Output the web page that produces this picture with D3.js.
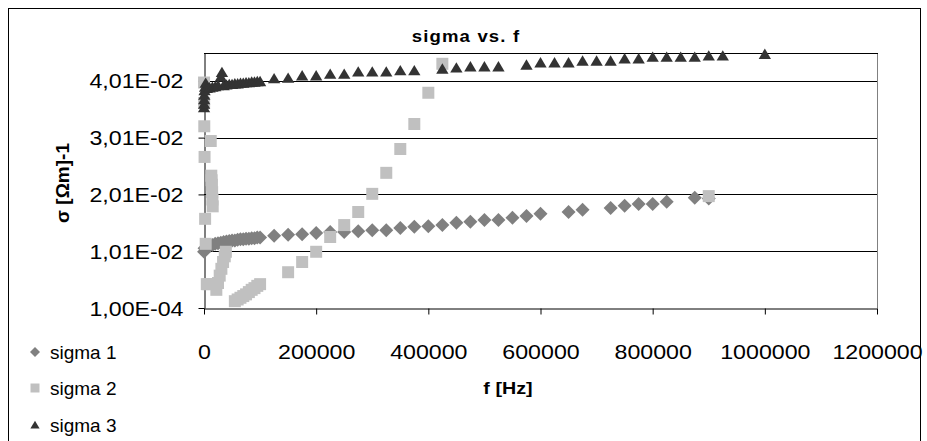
<!DOCTYPE html>
<html>
<head>
<meta charset="utf-8">
<script src="https://cdn.jsdelivr.net/npm/d3@7"></script>
<style>
  body { margin: 0; background: #fff; }
  svg text { font-family: "Liberation Sans", Arial, sans-serif; fill: #000; }
</style>
</head>
<body>
<svg id="chart" width="927" height="441"></svg>
<script>
// Conductivity measurements: [frequency in Hz, sigma in (Ohm m)^-1]
const sigma1 = [
  [100, 0.0100], [1000, 0.0106], [5000, 0.0108], [10000, 0.0110], [15000, 0.0112],
  [20000, 0.0114], [25000, 0.0115], [30000, 0.0116], [35000, 0.0117], [40000, 0.0118],
  [45000, 0.0119], [50000, 0.0120], [55000, 0.0120], [60000, 0.0121], [65000, 0.0122],
  [70000, 0.0122], [75000, 0.0123], [80000, 0.0123], [85000, 0.0124], [90000, 0.0124],
  [95000, 0.0125], [100000, 0.0125], [125000, 0.0128], [150000, 0.0130], [175000, 0.0131],
  [200000, 0.0133], [225000, 0.0135], [250000, 0.0135], [275000, 0.0136], [300000, 0.0138],
  [325000, 0.0138], [350000, 0.0142], [375000, 0.0144], [400000, 0.0145], [425000, 0.0147],
  [450000, 0.0151], [475000, 0.0153], [500000, 0.0156], [525000, 0.0156], [550000, 0.0160],
  [575000, 0.0163], [600000, 0.0167], [650000, 0.0170], [675000, 0.0174], [725000, 0.0177],
  [750000, 0.0181], [775000, 0.0184], [800000, 0.0184], [825000, 0.0188], [875000, 0.0195],
  [900000, 0.0194]
];

const sigma2 = [
  [100, 0.0398], [200, 0.0362], [500, 0.0321], [1000, 0.0267], [2000, 0.0158],
  [3000, 0.0114], [5000, 0.0043], [8000, 0.0043], [12000, 0.0295], [13000, 0.0234],
  [13500, 0.0226], [14000, 0.0218], [14500, 0.0205], [15000, 0.0192], [15500, 0.0180],
  [22000, 0.0033], [25000, 0.0045], [28000, 0.0058], [31000, 0.0070], [34000, 0.0082],
  [37000, 0.0092], [39000, 0.0100], [55000, 0.0013], [60000, 0.0016], [65000, 0.0019],
  [70000, 0.0022], [75000, 0.0025], [80000, 0.0029], [85000, 0.0033], [90000, 0.0036],
  [95000, 0.0040], [100000, 0.0043], [150000, 0.0064], [175000, 0.0082], [200000, 0.0100],
  [225000, 0.0126], [250000, 0.0147], [275000, 0.0170], [300000, 0.0202], [325000, 0.0239],
  [350000, 0.0281], [375000, 0.0325], [400000, 0.0380], [425000, 0.0431], [900000, 0.0198]
];

const sigma3 = [
  [100, 0.0354], [200, 0.0360], [300, 0.0368], [500, 0.0376], [1000, 0.0384],
  [2000, 0.0390], [3000, 0.0397], [5000, 0.0388], [10000, 0.0389], [15000, 0.0390],
  [20000, 0.0391], [25000, 0.0393], [30000, 0.0408], [32000, 0.0416], [35000, 0.0393],
  [40000, 0.0394], [45000, 0.0395], [50000, 0.0395], [55000, 0.0396], [60000, 0.0396],
  [65000, 0.0397], [70000, 0.0397], [75000, 0.0398], [80000, 0.0398], [85000, 0.0399],
  [90000, 0.0399], [95000, 0.0400], [100000, 0.0400], [125000, 0.0405], [150000, 0.0406],
  [175000, 0.0410], [200000, 0.0410], [225000, 0.0413], [250000, 0.0413], [275000, 0.0417],
  [300000, 0.0417], [325000, 0.0417], [350000, 0.0419], [375000, 0.0419], [425000, 0.0422],
  [450000, 0.0424], [475000, 0.0426], [500000, 0.0426], [525000, 0.0426], [575000, 0.0429],
  [600000, 0.0433], [625000, 0.0433], [650000, 0.0433], [675000, 0.0436], [700000, 0.0436],
  [725000, 0.0436], [750000, 0.0440], [775000, 0.0440], [800000, 0.0443], [825000, 0.0443],
  [850000, 0.0443], [875000, 0.0443], [900000, 0.0445], [925000, 0.0445], [1000000, 0.0448]
];

const seriesNames = ["sigma 1", "sigma 2", "sigma 3"];
const xTicks = [0, 200000, 400000, 600000, 800000, 1000000, 1200000];
const yTicks = [0.0001, 0.0101, 0.0201, 0.0301, 0.0401];
const yTickLabels = ["1,00E-04", "1,01E-02", "2,01E-02", "3,01E-02", "4,01E-02"];

const svg = d3.select("#chart");
const box = { left: 204, right: 877, top: 53, bottom: 308 };
const stretch = 1.16;   // text is drawn slightly wide, like the rest of the chart

const x = d3.scaleLinear().domain([0, 1200000]).range([box.left, box.right]);
const y = d3.scaleLinear().domain([0.0001, 0.045]).range([box.bottom, box.top]);

// outer chart frame
svg.append("rect")
  .attr("x", 8.5).attr("y", 8.5).attr("width", 912).attr("height", 440)
  .attr("fill", "#fff").attr("stroke", "#000").attr("stroke-width", 1);

// plot-area frame: grey right edge, dark top edge
svg.append("line")
  .attr("x1", box.right + 0.5).attr("x2", box.right + 0.5)
  .attr("y1", box.top).attr("y2", box.bottom)
  .attr("stroke", "#808080");
svg.append("line")
  .attr("x1", box.left).attr("x2", box.right + 1)
  .attr("y1", box.top + 0.5).attr("y2", box.top + 0.5)
  .attr("stroke", "#000");

// horizontal gridlines
svg.append("g").selectAll("line")
  .data(yTicks.slice(1))
  .join("line")
  .attr("x1", box.left).attr("x2", box.right)
  .attr("y1", d => Math.round(y(d)) + 0.5)
  .attr("y2", d => Math.round(y(d)) + 0.5)
  .attr("stroke", "#000").attr("stroke-width", 1);

// axes
const yAxis = d3.axisLeft(y)
  .tickValues(yTicks)
  .tickFormat((d, i) => yTickLabels[i])
  .tickSizeInner(6).tickSizeOuter(0);
const xAxis = d3.axisBottom(x)
  .tickValues(xTicks)
  .tickFormat(d3.format("d"))
  .tickSizeInner(6).tickSizeOuter(0);

const gy = svg.append("g")
  .attr("transform", `translate(${box.left + 0.5},0)`)
  .call(yAxis);
const gx = svg.append("g")
  .attr("transform", `translate(0,${box.bottom + 0.5})`)
  .call(xAxis);

[gx, gy].forEach(g => {
  g.select(".domain").attr("stroke", "#000");
  g.selectAll(".tick line").attr("stroke", "#000");
  g.selectAll(".tick text")
    .attr("font-family", "'Liberation Sans', Arial, sans-serif")
    .attr("font-size", 20).attr("fill", "#000");
});
gy.selectAll(".tick text")
  .attr("x", -21 / stretch).attr("dy", null).attr("y", 7)
  .attr("text-anchor", "end")
  .attr("transform", `scale(${stretch},1)`);
gx.selectAll(".tick text")
  .attr("dy", null).attr("y", 51)
  .attr("text-anchor", "middle")
  .attr("transform", `scale(${stretch},1)`);

// marker shapes
const markerPath = {
  diamond: r => `M0,${-r}L${r},0L0,${r}L${-r},0Z`,
  square: r => `M${-r},${-r}H${r}V${r}H${-r}Z`,
  triangle: r => `M0,${-r}L${r * 1.1},${r * 0.85}L${-r * 1.1},${r * 0.85}Z`
};
const styles = [
  { data: sigma1, shape: "diamond", size: 7, color: "#808080" },
  { data: sigma2, shape: "square", size: 6, color: "#c0c0c0" },
  { data: sigma3, shape: "triangle", size: 5.6, color: "#333333" }
];

styles.forEach(s => {
  svg.append("g").selectAll("path")
    .data(s.data)
    .join("path")
    .attr("transform", d => `translate(${x(d[0])},${y(d[1])})`)
    .attr("d", markerPath[s.shape](s.size))
    .attr("fill", s.color);
});

// title and axis titles
svg.append("text")
  .attr("transform", `translate(466,42) scale(${stretch},1)`)
  .attr("text-anchor", "middle")
  .attr("font-size", 16).attr("font-weight", "bold")
  .attr("letter-spacing", 1)
  .text("sigma vs. f");

svg.append("text")
  .attr("transform", `translate(508,394) scale(${stretch},1)`)
  .attr("text-anchor", "middle")
  .attr("font-size", 17).attr("font-weight", "bold")
  .text("f [Hz]");

svg.append("text")
  .attr("transform", `translate(69,183) rotate(-90)`)
  .attr("text-anchor", "middle")
  .attr("font-size", 19).attr("font-weight", "bold")
  .text("σ [Ωm]-1");

// legend
const legendRows = [352, 388, 425];
const legendMarks = [
  { shape: "diamond", size: 5, color: "#808080" },
  { shape: "square", size: 4.5, color: "#c0c0c0" },
  { shape: "triangle", size: 4.2, color: "#333333" }
];
const legend = svg.append("g");
seriesNames.forEach((name, i) => {
  legend.append("path")
    .attr("transform", `translate(35,${legendRows[i]})`)
    .attr("d", markerPath[legendMarks[i].shape](legendMarks[i].size))
    .attr("fill", legendMarks[i].color);
  legend.append("text")
    .attr("x", 50).attr("y", legendRows[i] + 7)
    .attr("font-size", 19)
    .text(name);
});
</script>
</body>
</html>
